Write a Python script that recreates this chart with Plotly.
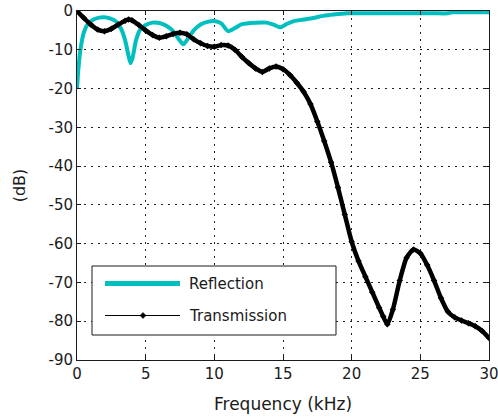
import plotly.graph_objects as go

# Transmission curve (kHz, dB)
freq_t = [0.0, 0.5, 1.0, 1.5, 2.0, 2.5, 3.0, 3.5, 3.75, 4.0, 4.5, 5.0, 5.5, 6.0,
          6.5, 7.0, 7.5, 8.0, 8.5, 9.0, 9.5, 10.0, 10.5, 11.0, 11.5, 12.0, 12.5,
          13.0, 13.5, 14.0, 14.5, 15.0, 15.5, 16.0, 16.5, 17.0, 17.5, 18.0, 18.5,
          19.0, 19.5, 20.0, 20.5, 21.0, 21.5, 22.0, 22.3, 22.6, 23.0, 23.5, 24.0,
          24.5, 25.0, 25.5, 26.0, 26.5, 27.0, 27.5, 28.0, 28.5, 29.0, 29.5, 30.0]
trans_db = [0.0, -1.8, -3.5, -4.8, -5.2, -4.6, -3.5, -2.5, -2.2, -2.4, -3.6, -5.0,
            -6.2, -6.9, -6.5, -5.9, -5.6, -6.0, -7.3, -8.3, -9.0, -9.2, -8.8, -8.9,
            -10.0, -11.8, -13.4, -14.8, -15.7, -14.8, -14.3, -15.0, -16.5, -18.5,
            -20.8, -24.0, -28.5, -33.5, -39.0, -45.5, -52.5, -59.5, -64.5, -68.5,
            -72.5, -76.5, -78.8, -80.8, -77.0, -69.5, -63.6, -61.5, -62.5, -65.5,
            -69.5, -74.0, -77.5, -79.0, -79.8, -80.5, -81.3, -82.5, -84.3]

# Reflection curve (kHz, dB)
freq_r = [0.0, 0.1, 0.25, 0.5, 0.8, 1.2, 1.6, 2.0, 2.4, 2.8, 3.2, 3.5, 3.75, 3.9,
          4.05, 4.3, 4.6, 5.0, 5.5, 6.0, 6.5, 7.0, 7.4, 7.75, 8.1, 8.5, 9.0, 9.5,
          10.0, 10.5, 11.0, 11.5, 12.0, 13.0, 13.8, 14.3, 14.8, 15.3, 15.8, 16.5,
          17.2, 18.0, 18.7, 19.3, 19.7, 20.5, 22.0, 24.0, 26.0, 27.0, 27.3, 28.5, 30.0]
refl_db = [-20.0, -15.0, -10.0, -5.5, -3.3, -2.2, -1.7, -1.6, -1.9, -2.6, -4.5,
           -7.5, -11.5, -13.5, -12.0, -7.5, -4.8, -3.6, -3.0, -3.1, -3.8, -5.2,
           -7.2, -8.6, -7.0, -5.0, -3.5, -2.8, -2.6, -3.2, -5.2, -4.4, -3.4, -3.0,
           -3.0, -3.5, -4.2, -3.3, -2.6, -2.2, -1.8, -1.2, -0.9, -0.7, -0.6, -0.6,
           -0.6, -0.6, -0.6, -0.6, -0.35, -0.35, -0.35]

x_ticks = [0, 5, 10, 15, 20, 25, 30]
x_tick_text = ["0", "5", "10", "15", "20", "25", "30"]
y_ticks = [0, -10, -20, -30, -40, -50, -60, -70, -80, -90]
y_tick_text = ["0", "-10", "-20", "-30", "-40", "-50", "-60", "-70", "-80", "-90"]
series_names = ["Reflection", "Transmission"]

CYAN = "rgb(0,191,191)"
INK = "#1a1a1a"
FONT = "DejaVu Sans"

W, H = 498, 417
ML, MR, MT, MB = 77, 9, 11, 57
PW, PH = W - ML - MR, H - MT - MB


def paper(xp, yp):
    """Convert a pixel position in the figure to paper coordinates."""
    return (xp - ML) / PW, (MT + PH - yp) / PH


fig = go.Figure()
fig.add_trace(go.Scatter(
    x=freq_r, y=refl_db, mode="lines", name=series_names[0],
    line=dict(color=CYAN, width=4, shape="spline", smoothing=0.6),
    showlegend=False,
))
fig.add_trace(go.Scatter(
    x=freq_t, y=trans_db, mode="lines+markers", name=series_names[1],
    line=dict(color="black", width=4.5, shape="spline", smoothing=0.6),
    marker=dict(symbol="diamond", size=5, color="black"),
    showlegend=False,
))

axis_common = dict(
    automargin=False, ticklabeloverflow="allow",
    showline=True, linecolor=INK, linewidth=1, mirror="ticks",
    ticks="inside", ticklen=4, tickcolor=INK,
    showgrid=True, gridcolor="#222", gridwidth=1, griddash="2px,5px",
    zeroline=False, tickfont=dict(family=FONT, size=15, color=INK),
)

fig.update_layout(
    width=W, height=H,
    margin=dict(l=ML, r=MR, t=MT, b=MB),
    paper_bgcolor="white", plot_bgcolor="white",
    showlegend=False,
    xaxis=dict(range=[0, 30], tickvals=x_ticks, ticktext=x_tick_text,
               title=dict(text="Frequency (kHz)", font=dict(family=FONT, size=17, color=INK),
                          standoff=16),
               **axis_common),
    yaxis=dict(range=[-90, 0], tickvals=y_ticks, ticktext=y_tick_text,
               title=dict(text="(dB)", font=dict(family=FONT, size=16, color=INK),
                          standoff=18),
               **axis_common),
)

# Legend box drawn in the lower-left corner of the axes
bx0, by0 = paper(92, 335)
bx1, by1 = paper(336, 266)
shapes = [dict(type="rect", xref="paper", yref="paper", x0=bx0, y0=by0, x1=bx1, y1=by1,
               fillcolor="white", line=dict(color=INK, width=1), layer="above")]

lx0, ly_r = paper(105, 283.5)
lx1, ly_t = paper(180, 315.5)
shapes.append(dict(type="line", xref="paper", yref="paper", x0=lx0, x1=lx1, y0=ly_r, y1=ly_r,
                   line=dict(color=CYAN, width=5), layer="above"))
shapes.append(dict(type="line", xref="paper", yref="paper", x0=lx0, x1=lx1, y0=ly_t, y1=ly_t,
                   line=dict(color="black", width=1), layer="above"))
mx, my = paper(143, 315.5)
dx, dy = 3 / PW, 3 / PH
shapes.append(dict(type="path", xref="paper", yref="paper",
                   path=f"M {mx - dx},{my} L {mx},{my + dy} L {mx + dx},{my} L {mx},{my - dy} Z",
                   fillcolor="black", line=dict(color="black", width=0.5), layer="above"))
fig.update_layout(shapes=shapes)

tx, _ = paper(187, 0)
for name, yy in zip(series_names, [ly_r, ly_t]):
    fig.add_annotation(x=tx, y=yy, xref="paper", yref="paper", text=name, showarrow=False,
                       xanchor="left", yanchor="middle",
                       font=dict(family=FONT, size=15, color=INK))

fig.write_html("out.html")
